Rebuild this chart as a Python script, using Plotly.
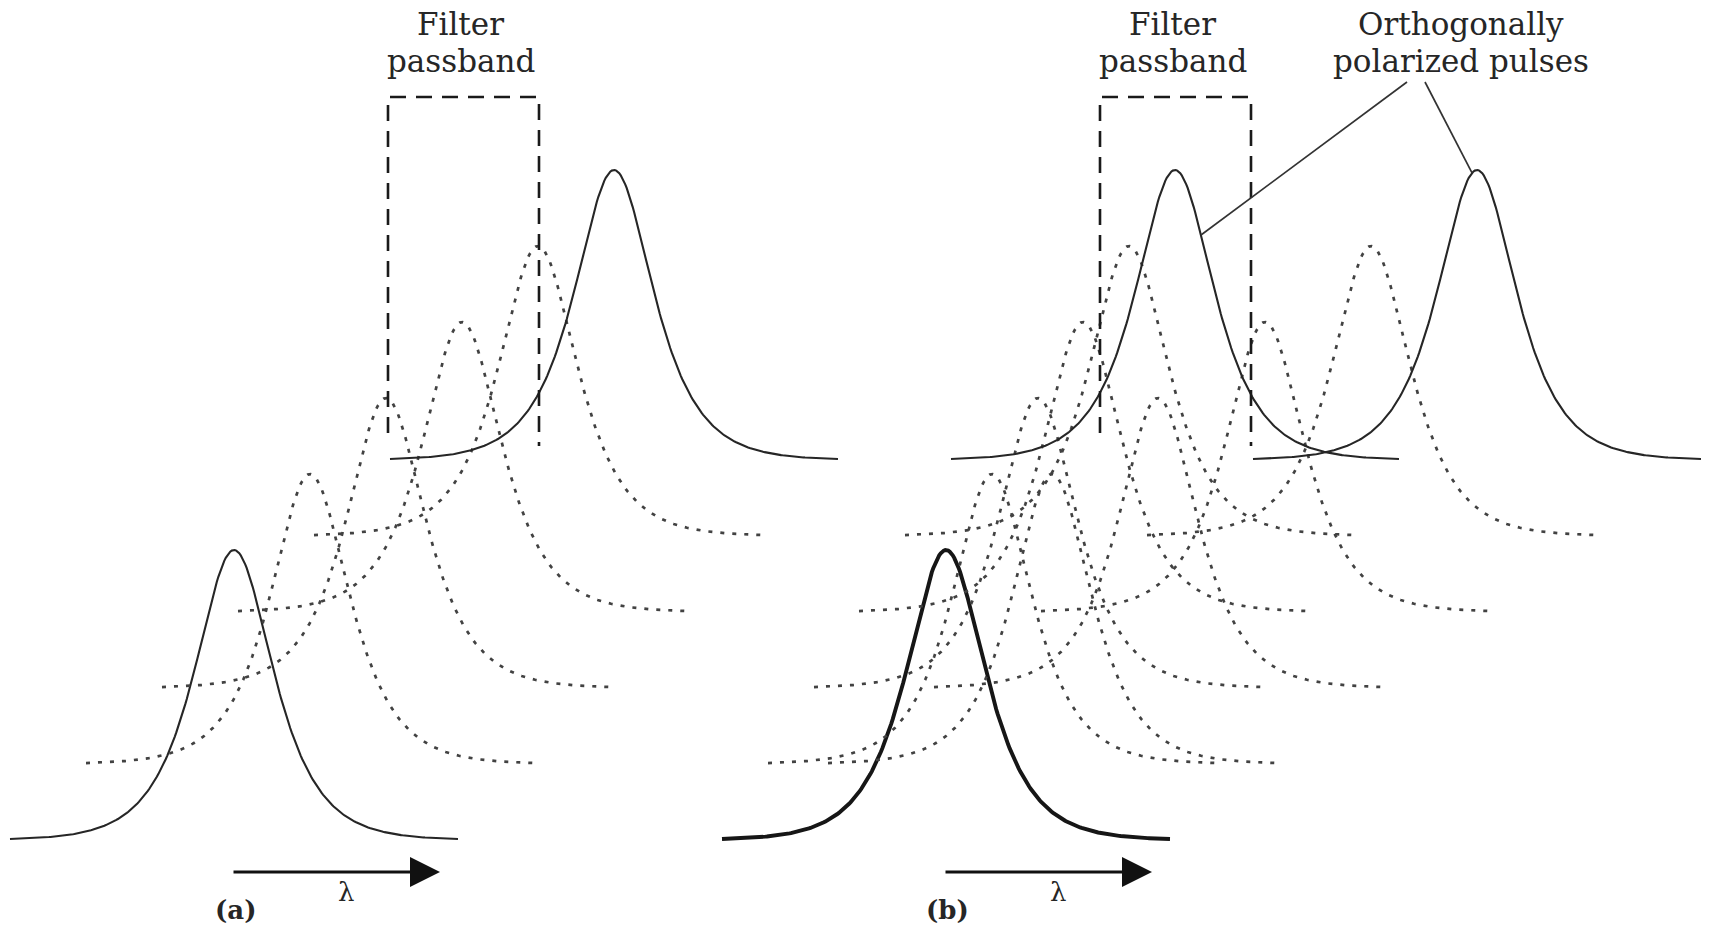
import numpy as np
import plotly.graph_objects as go

# ---------------- data ----------------
pulse_index = [0, 1, 2, 3, 4, 5]                      # depth position in the stack
panel_a_style = ["thin", "dot", "dot", "dot", "dot", "thin"]
panel_b_style = ["thick", "dot", "dot", "dot", "dot", "thin"]
pol_split_b = [0, 30, 60, 91, 121, 151]               # polarization walk-off in (b)
front_center = {"a": 234, "b": 946}                   # centre wavelength of front pulse
front_baseline = 92
step_lambda = 76                                      # wavelength shift per pulse
step_height = 76                                      # perspective rise per pulse
peak_amplitude = 290
pulse_T = 35
half_span = 224

passband_a = [388, 539]
passband_b = [1100, 1251]
passband_top = 835
passband_bottom = [499, 486]

filter_label = ["Filter", "passband"]
ortho_label = ["Orthogonally", "polarized pulses"]
ortho_targets = [(5, -1, 26), (5, 1, -5)]              # (pulse index, which of pair, offset)
ortho_start = [1407, 1425]
ortho_start_y = 850

lambda_arrow_len = 208
panel_labels = ["(a)", "(b)"]

# ---------------- helpers ----------------
def pulse_curve(center, base):
    x = np.linspace(center - half_span, center + half_span, 300)
    y = base + peak_amplitude / np.cosh((x - center) / pulse_T)
    return x, y

def pulse_y(center, base, x):
    return base + peak_amplitude / np.cosh((x - center) / pulse_T)

styles = {
    "thin": dict(color="#262626", width=2.1),
    "thick": dict(color="#161616", width=3.9),
    "dot": dict(color="#424242", width=2.7, dash="4px,8px"),
}

fig = go.Figure()

def add_pulse(center, base, style):
    x, y = pulse_curve(center, base)
    fig.add_trace(go.Scatter(x=x, y=y, mode="lines", line=styles[style],
                             hoverinfo="skip", showlegend=False))

# panel (a)
for k, st in zip(pulse_index, panel_a_style):
    c = front_center["a"] + k * step_lambda
    b = front_baseline + k * step_height
    add_pulse(c, b, st)

# panel (b)
for k, st, s in zip(pulse_index, panel_b_style, pol_split_b):
    c = front_center["b"] + k * step_lambda
    b = front_baseline + k * step_height
    if s == 0:
        add_pulse(c, b, st)
    else:
        add_pulse(c - s, b, st)
        add_pulse(c + s, b, st)

# filter passbands (open-bottom dashed boxes)
for pb in (passband_a, passband_b):
    fig.add_trace(go.Scatter(
        x=[pb[0], pb[0], pb[1], pb[1]],
        y=[passband_bottom[0], passband_top, passband_top, passband_bottom[1]],
        mode="lines", line=dict(color="#1a1a1a", width=2.6, dash="16px,10px"),
        hoverinfo="skip", showlegend=False))

# leader lines for orthogonally polarized pulses
for (k, side, off), sx in zip(ortho_targets, ortho_start):
    c = front_center["b"] + k * step_lambda + side * pol_split_b[k]
    b = front_baseline + k * step_height
    tx = c + off
    ty = pulse_y(c, b, tx)
    fig.add_trace(go.Scatter(x=[sx, tx], y=[ortho_start_y, ty], mode="lines",
                             line=dict(color="#333333", width=1.7),
                             hoverinfo="skip", showlegend=False))

serif = "DejaVu Serif"
txt_color = "#262626"
annotations = []
# text labels
for pb in (passband_a, passband_b):
    cx = (pb[0] + pb[1]) / 2 - 3
    annotations.append(dict(x=cx, y=908, text=filter_label[0], showarrow=False,
                            font=dict(family=serif, size=31, color=txt_color)))
    annotations.append(dict(x=cx, y=871, text=filter_label[1], showarrow=False,
                            font=dict(family=serif, size=31, color=txt_color)))
annotations.append(dict(x=1461, y=908, text=ortho_label[0], showarrow=False,
                        font=dict(family=serif, size=31, color=txt_color)))
annotations.append(dict(x=1461, y=871, text=ortho_label[1], showarrow=False,
                        font=dict(family=serif, size=31, color=txt_color)))

# wavelength arrows and panel labels
for key, lab in zip(["a", "b"], panel_labels):
    x0 = front_center[key] - 2
    annotations.append(dict(x=x0 + lambda_arrow_len, y=60, ax=x0, ay=60,
                            xref="x", yref="y", axref="x", ayref="y",
                            showarrow=True, arrowhead=2, arrowsize=2.0,
                            arrowwidth=3, arrowcolor="#111111", text=""))
    annotations.append(dict(x=x0 + 114, y=40, text="λ", showarrow=False,
                            font=dict(family=serif, size=26, color=txt_color)))
    annotations.append(dict(x=x0 + 3, y=22, text="<b>" + lab + "</b>", showarrow=False,
                            font=dict(family=serif, size=26, color=txt_color)))

fig.update_layout(
    width=1710, height=932, autosize=False,
    margin=dict(l=0, r=0, t=0, b=0),
    paper_bgcolor="white", plot_bgcolor="white",
    xaxis=dict(range=[0, 1710], visible=False, fixedrange=True),
    yaxis=dict(range=[0, 932], visible=False, fixedrange=True),
    showlegend=False,
    annotations=annotations,
)

fig.write_html("out.html", include_plotlyjs=True, full_html=True,
               config={"displayModeBar": False},
               post_script="document.body.style.margin='0';document.body.style.overflow='hidden';")
